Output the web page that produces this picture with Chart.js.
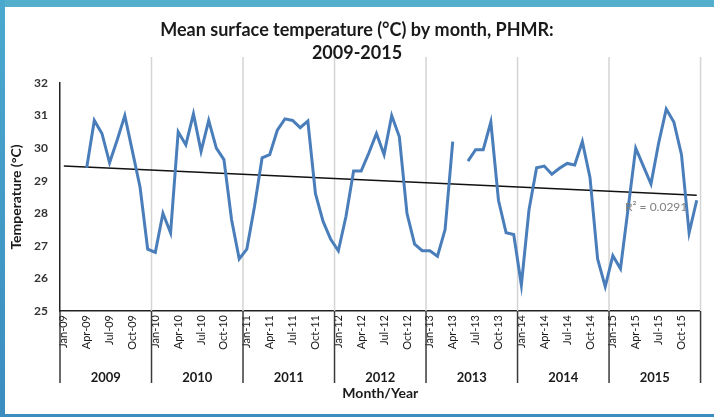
<!DOCTYPE html>
<html lang="en">
<head>
    <meta charset="UTF-8">
    <title>Mean surface temperature by month, PHMR</title>
    <script src="https://cdn.jsdelivr.net/npm/chart.js"></script>
    <style>
        html, body { margin: 0; padding: 0; background: #fff; }
        #wrap { position: relative; width: 714px; height: 417px; overflow: hidden; }
        #frameTop { position: absolute; left: 0; top: 0; width: 714px; height: 7px; background: #53afcb; }
        #frameLeft { position: absolute; left: 0; top: 0; width: 5px; height: 417px; background: linear-gradient(#4aa9cf, #3b8cbf); }
        #frameBottom { position: absolute; left: 0; bottom: 0; width: 714px; height: 3px; background: #3d8ec0; }
    </style>
</head>
<body>
    <div id="wrap">
        <canvas id="tempChart" width="714" height="417"></canvas>
        <div id="frameTop"></div>
        <div id="frameLeft"></div>
        <div id="frameBottom"></div>
    </div>

    <script>
        // categories
        const years = ['2009', '2010', '2011', '2012', '2013', '2014', '2015'];
        const months = ['Jan', 'Feb', 'Mar', 'Apr', 'May', 'Jun', 'Jul', 'Aug', 'Sep', 'Oct', 'Nov', 'Dec'];

        // monthly mean temperature, Jan-09 .. Dec-15 (null = no reading)
        const temps = [
            null, null, null, 29.4, 30.85, 30.45, 29.55, 30.25, 31.0, 29.9, 28.8, 26.9,     // 2009
            26.8, 28.0, 27.4, 30.5, 30.1, 31.05, 29.9, 30.85, 30.0, 29.65, 27.8, 26.6,      // 2010
            26.9, 28.2, 29.7, 29.8, 30.55, 30.9, 30.85, 30.63, 30.83, 28.6, 27.75, 27.2,    // 2011
            26.85, 27.9, 29.3, 29.3, 29.85, 30.45, 29.8, 31.0, 30.35, 28.0, 27.05, 26.85,   // 2012
            26.85, 26.68, 27.5, 30.2, null, 29.6, 29.95, 29.95, 30.8, 28.4, 27.4, 27.35,    // 2013
            25.8, 28.1, 29.4, 29.45, 29.2, 29.38, 29.53, 29.48, 30.2, 29.1, 26.6, 25.75,    // 2014
            26.7, 26.3, 28.15, 30.0, 29.45, 28.9, 30.15, 31.2, 30.8, 29.8, 27.4, 28.4       // 2015
        ];

        // linear trend line, read at first and last month
        const trendStart = 29.45;
        const trendEnd = 28.55;
        const rSquared = '0.0291';

        const yTicks = [25, 26, 27, 28, 29, 30, 31, 32];

        const labels = [];
        years.forEach(y => months.forEach(m => labels.push(m + '-' + y.slice(2))));

        const trend = labels.map(() => null);
        trend[0] = trendStart;
        trend[labels.length - 1] = trendEnd;

        const FONT = 'Lato, "Open Sans", sans-serif';

        const yearAxisPlugin = {
            id: 'yearAxis',
            beforeDatasetsDraw(chart) {
                const ctx = chart.ctx;
                const x = chart.scales.x;
                const area = chart.chartArea;
                ctx.save();
                ctx.strokeStyle = '#d4d4d4';
                ctx.lineWidth = 1.5;
                for (let k = 1; k <= years.length; k++) {
                    const bx = k === years.length ? area.right : (x.getPixelForValue(12 * k - 1) + x.getPixelForValue(12 * k)) / 2;
                    ctx.beginPath();
                    ctx.moveTo(bx, area.top - 26);
                    ctx.lineTo(bx, area.bottom);
                    ctx.stroke();
                }
                ctx.restore();
            },
            afterDraw(chart) {
                const ctx = chart.ctx;
                const x = chart.scales.x;
                const area = chart.chartArea;
                ctx.save();
                const bounds = [];
                for (let k = 0; k <= years.length; k++) {
                    if (k === 0) bounds.push(area.left);
                    else if (k === years.length) bounds.push(area.right);
                    else bounds.push((x.getPixelForValue(12 * k - 1) + x.getPixelForValue(12 * k)) / 2);
                }
                ctx.strokeStyle = '#3a3a3a';
                ctx.lineWidth = 1.5;
                bounds.forEach(bx => {
                    ctx.beginPath();
                    ctx.moveTo(bx, area.bottom);
                    ctx.lineTo(bx, area.bottom + 72);
                    ctx.stroke();
                });
                ctx.fillStyle = '#1a1a1a';
                ctx.font = 'bold 13px ' + FONT;
                ctx.textAlign = 'center';
                ctx.textBaseline = 'middle';
                years.forEach((y, i) => {
                    ctx.fillText(y, (bounds[i] + bounds[i + 1]) / 2, area.bottom + 67);
                });

                // R squared label
                ctx.fillStyle = '#808080';
                ctx.font = '12px ' + FONT;
                ctx.textAlign = 'left';
                ctx.fillText('R\u00b2 = ' + rSquared, 625, 207);

                // title
                ctx.fillStyle = '#1a1a1a';
                ctx.font = 'bold 18px ' + FONT;
                ctx.textAlign = 'center';
                ctx.fillText('Mean surface temperature (\u00b0C) by month, PHMR:', 357, 30);
                ctx.fillText('2009-2015', 357, 53);
                ctx.restore();
            }
        };

        new Chart(document.getElementById('tempChart'), {
            type: 'line',
            data: {
                labels: labels,
                datasets: [{
                    label: 'Temperature',
                    data: temps,
                    borderColor: '#4a7ebb',
                    borderWidth: 3,
                    pointRadius: 0,
                    tension: 0,
                    spanGaps: false
                }, {
                    label: 'Linear trend',
                    data: trend,
                    borderColor: '#111',
                    borderWidth: 1.5,
                    pointRadius: 0,
                    spanGaps: true
                }]
            },
            options: {
                responsive: false,
                animation: false,
                layout: { padding: { left: 0, right: 10, top: 83, bottom: 0 } },
                plugins: {
                    legend: { display: false },
                    tooltip: { enabled: false }
                },
                scales: {
                    x: {
                        offset: true,
                        grid: { display: false, drawTicks: false },
                        border: { color: '#222', width: 1.5 },
                        ticks: {
                            autoSkip: false,
                            minRotation: 90,
                            maxRotation: 90,
                            padding: 4,
                            color: '#1a1a1a',
                            font: { family: FONT, size: 11 },
                            callback: (v, i) => (i % 3 === 0 ? labels[i] : '')
                        },
                        title: {
                            display: true,
                            text: 'Month/Year',
                            color: '#1a1a1a',
                            font: { family: FONT, size: 14, weight: 'bold' },
                            padding: { top: 15, bottom: 15 }
                        },
                        afterFit: scale => { scale.height = 106; }
                    },
                    y: {
                        min: 25,
                        max: 32,
                        grid: { display: false, drawTicks: false },
                        border: { color: '#222', width: 1.5 },
                        afterBuildTicks: scale => { scale.ticks = yTicks.map(v => ({ value: v })); },
                        ticks: {
                            padding: 12,
                            color: '#333',
                            font: { family: FONT, size: 12, weight: 'bold' }
                        },
                        title: {
                            display: true,
                            text: 'Temperature (\u00b0C)',
                            color: '#1a1a1a',
                            font: { family: FONT, size: 14, weight: 'bold' },
                            padding: { top: 8, bottom: 0 }
                        },
                        afterFit: scale => { scale.width = 60; }
                    }
                }
            },
            plugins: [yearAxisPlugin]
        });
    </script>
</body>
</html>
